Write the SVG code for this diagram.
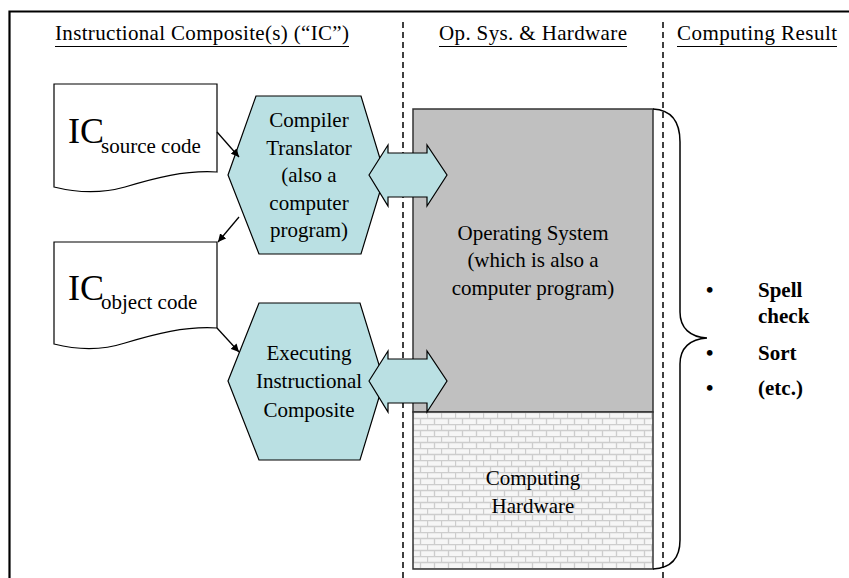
<svg xmlns="http://www.w3.org/2000/svg" width="849" height="578" viewBox="0 0 849 578">
<style>
text{font-family:"Liberation Serif","Times New Roman",serif;fill:#000}
.hdr{font-size:21px}
.t21{font-size:21px}
.mid{text-anchor:middle}
.big{font-size:36px}
.b{font-weight:bold;font-size:21px}
.dash{stroke:#000;stroke-width:1.5;stroke-dasharray:6,4;fill:none}
.hex{fill:#BAE0E3;stroke:#000;stroke-width:1.2}
.doc{fill:#fff;stroke:#000;stroke-width:1.2}
.conn{stroke:#000;stroke-width:1.3;fill:none;marker-end:url(#ah)}
</style>
<defs>
<marker id="ah" viewBox="0 0 10 10" refX="10" refY="5" markerWidth="8" markerHeight="8" markerUnits="userSpaceOnUse" orient="auto">
<path d="M0,0 L10,5 L0,10 Z" fill="#000"/>
</marker>
<pattern id="brick" x="413" y="412" width="14" height="12" patternUnits="userSpaceOnUse">
<rect width="14" height="12" fill="#f6f6f6"/>
<path d="M0,0.5 H14 M0,6.5 H14 M0.5,0 V6 M7.5,6 V12" stroke="#cdcdcd" stroke-width="1.3" fill="none"/>
</pattern>
</defs>
<rect width="849" height="578" fill="#fff"/>
<g id="frame">
<path d="M9.5,578 V11.5 H849" stroke="#000" stroke-width="2.2" fill="none"/>
<line class="dash" x1="403" y1="22" x2="403" y2="578"/>
<line class="dash" x1="663" y1="22" x2="663" y2="578"/>
</g>
<g id="headers">
<text class="hdr" x="55" y="40" textLength="294">Instructional Composite(s) (“IC”)</text>
<line x1="55" y1="46.5" x2="349" y2="46.5" stroke="#000" stroke-width="1"/>
<text class="hdr" x="439" y="40" textLength="188">Op. Sys. &amp; Hardware</text>
<line x1="439" y1="46.5" x2="627" y2="46.5" stroke="#000" stroke-width="1"/>
<text class="hdr" x="677" y="40" textLength="160">Computing Result</text>
<line x1="677" y1="46.5" x2="837" y2="46.5" stroke="#000" stroke-width="1"/>
</g>
<g id="source">
<path class="doc" d="M54,84 H217 V172 C185,170 155,178 125,187 C100,194 78,193 54,187 Z"/>
<text class="big" x="68" y="143">IC</text>
<text class="t21" x="101" y="153">source code</text>
</g>
<g id="object">
<path class="doc" d="M54,242 H217 V328 C185,326 155,334 125,343 C100,351 78,350 54,344 Z"/>
<text class="big" x="68" y="300">IC</text>
<text class="t21" x="101" y="309">object code</text>
</g>
<g id="os-hw">
<rect x="413" y="109" width="240" height="303" fill="#C0C0C0" stroke="#333" stroke-width="1.5"/>
<rect x="413" y="412" width="240" height="157" fill="url(#brick)" stroke="#333" stroke-width="1.5"/>
<text class="t21 mid" x="533" y="240">Operating System</text>
<text class="t21 mid" x="533" y="267">(which is also a</text>
<text class="t21 mid" x="533" y="295">computer program)</text>
<text class="t21 mid" x="533" y="485">Computing</text>
<text class="t21 mid" x="533" y="513">Hardware</text>
</g>
<g id="compiler">
<polygon class="hex" points="228,175 256,96 361,96 385,175 361,254 259,254"/>
<text class="t21 mid" x="309" y="127">Compiler</text>
<text class="t21 mid" x="309" y="155">Translator</text>
<text class="t21 mid" x="309" y="182">(also a</text>
<text class="t21 mid" x="309" y="210">computer</text>
<text class="t21 mid" x="309" y="237">program)</text>
</g>
<g id="executing">
<polygon class="hex" points="228,381 259,303 360,303 384,381 360,460 259,460"/>
<text class="t21 mid" x="309" y="360">Executing</text>
<text class="t21 mid" x="309" y="388">Instructional</text>
<text class="t21 mid" x="309" y="417">Composite</text>
</g>
<g id="connectors">
<line class="conn" x1="217" y1="132" x2="239" y2="157"/>
<line class="conn" x1="239" y1="217" x2="218" y2="242"/>
<line class="conn" x1="217" y1="328" x2="239" y2="352"/>
<polygon class="hex" points="369,175 388,145 388,153 427,153 427,145 447,175 427,206 427,197 388,197 388,206"/>
<polygon class="hex" points="369,381 388,351 388,359 427,359 427,351 447,381 427,412 427,403 388,403 388,412"/>
</g>
<g id="result">
<path d="M653,109 C672,110 680,122 680,142 V312 C680,328 690,337 707,338 C690,339 680,348 680,364 V540 C680,558 672,568 653,569" stroke="#000" stroke-width="1.5" fill="none"/>
<text class="b" x="706" y="297">•</text>
<text class="b" x="758" y="297">Spell</text>
<text class="b" x="758" y="323">check</text>
<text class="b" x="706" y="360">•</text>
<text class="b" x="758" y="360">Sort</text>
<text class="b" x="706" y="395">•</text>
<text class="b" x="758" y="395">(etc.)</text>
</g>
</svg>
